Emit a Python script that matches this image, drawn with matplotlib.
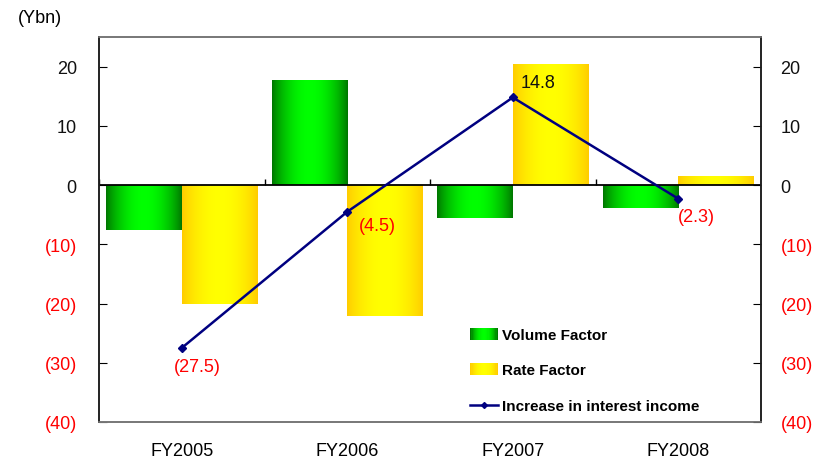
import numpy as np
import matplotlib
matplotlib.use('Agg')
import matplotlib.pyplot as plt
from matplotlib.patches import Rectangle
from matplotlib.legend_handler import HandlerBase
from matplotlib.lines import Line2D

plt.rcParams['font.family'] = ['Liberation Sans', 'DejaVu Sans']

years = ['FY2005', 'FY2006', 'FY2007', 'FY2008']
volume_factor = [-7.5, 17.6, -5.5, -3.8]
rate_factor = [-20.0, -22.1, 20.3, 1.5]
interest_income = [-27.5, -4.5, 14.8, -2.3]

GREEN_EDGE, GREEN_MID = (0.0, 0.47, 0.0), (0.0, 1.0, 0.0)
GOLD_EDGE, GOLD_MID = (1.0, 0.80, 0.0), (1.0, 1.0, 0.0)


def shade(edge, mid, n=64):
    t = np.linspace(0, 1, n)
    w = np.sin(np.pi * t) ** 0.8
    e, m = np.array(edge), np.array(mid)
    return e[None, :] + (m - e)[None, :] * w[:, None]


def fmt(v):
    v = int(round(v))
    return f'({abs(v)})' if v < 0 else str(v)


class GradientHandler(HandlerBase):
    def __init__(self, edge, mid):
        super().__init__()
        self.edge, self.mid = edge, mid

    def create_artists(self, legend, orig_handle, xdescent, ydescent,
                       width, height, fontsize, trans):
        cols = shade(self.edge, self.mid, 24)
        n = len(cols)
        arts = []
        for i, c in enumerate(cols):
            r = Rectangle((-xdescent + width * i / n, -ydescent - height * 0.05),
                          width / n + 0.3, height * 1.1,
                          facecolor=c, edgecolor='none', transform=trans)
            arts.append(r)
        return arts


fig = plt.figure(figsize=(8.14, 4.64), dpi=100)
ax = fig.add_axes([0.1216, 0.0884, 0.8134, 0.8296])

x = np.arange(len(years))
w = 0.455
b1 = ax.bar(x - w / 2, volume_factor, w, color='none', edgecolor='none')
b2 = ax.bar(x + w / 2, rate_factor, w, color='none', edgecolor='none')

# gradient fill for each bar
for bars, edge, mid in [(b1, GREEN_EDGE, GREEN_MID), (b2, GOLD_EDGE, GOLD_MID)]:
    img = shade(edge, mid)[None, :, :]
    for r in bars:
        x0, y0 = r.get_x(), r.get_y()
        ax.imshow(img, extent=(x0, x0 + r.get_width(), y0, y0 + r.get_height()),
                  aspect='auto', interpolation='bilinear', zorder=2)

ax.plot(x, interest_income, color='#000080', lw=1.8, marker='D', ms=4, zorder=4)

ax.axhline(0, color='black', lw=1.3, zorder=3)
ax.vlines(np.arange(len(years) + 1) - 0.5, 0, 1.0, color='black', lw=1.0, zorder=3)

ax.set_xlim(-0.5, len(years) - 0.5)
ax.set_ylim(-40, 25)
ax.set_xticks(x)
ax.set_xticklabels(years, fontsize=13)
ax.tick_params(axis='x', length=0, pad=14.5)

yt = np.arange(-40, 21, 10)
ax.set_yticks(yt)
ax.set_yticklabels([fmt(v) for v in yt], fontsize=13)
ax.tick_params(axis='y', direction='in', length=6, pad=16)

ax2 = ax.twinx()
ax2.set_ylim(ax.get_ylim())
ax2.set_yticks(yt)
ax2.set_yticklabels([fmt(v) for v in yt], fontsize=13)
ax2.tick_params(axis='y', direction='in', length=6, pad=14)

for a in (ax, ax2):
    for t, v in zip(a.get_yticklabels(), yt):
        t.set_color('red' if v < 0 else '#111111')
    for s in a.spines.values():
        s.set_color('#222222')
        s.set_linewidth(1.2)
    a.spines['top'].set_color('#777777')
    a.spines['bottom'].set_color('#777777')

offsets = [(11, -13.5), (21.5, -10), (18.5, 11), (13, -13)]
for xi, v, off in zip(x, interest_income, offsets):
    lbl = f'({abs(v)})' if v < 0 else f'{v}'
    ax.annotate(lbl, (xi, v), xytext=off, textcoords='offset points',
                ha='center', va='center', fontsize=13,
                color='red' if v < 0 else '#111111', zorder=5)

fig.text(0.022, 0.961, '(Ybn)', fontsize=13, va='center')

h_vol = Rectangle((0, 0), 1, 1, label='Volume Factor')
h_rate = Rectangle((0, 0), 1, 1, label='Rate Factor')
h_line = Line2D([], [], color='#000080', lw=1.8, marker='D', ms=3,
                label='Increase in interest income')
leg = ax.legend(handles=[h_vol, h_rate, h_line],
                handler_map={h_vol: GradientHandler(GREEN_EDGE, GREEN_MID),
                             h_rate: GradientHandler(GOLD_EDGE, GOLD_MID)},
                loc='lower left', bbox_to_anchor=(0.54, -0.012), frameon=False,
                prop={'weight': 'bold', 'size': 11}, labelspacing=1.4,
                handlelength=1.8, handletextpad=0.3)

fig.savefig('out.png', dpi=100)
